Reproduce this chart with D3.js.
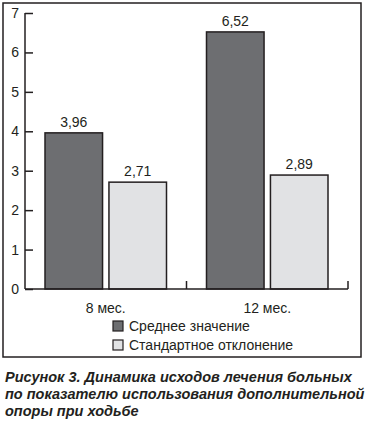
<!DOCTYPE html>
<html>
<head>
<meta charset="utf-8">
<script src="https://cdn.jsdelivr.net/npm/d3@7"></script>
<style>
  body { margin: 0; background: #fff; }
  svg { display: block; font-family: "Liberation Sans", Arial, sans-serif; }
</style>
</head>
<body>
<svg id="chart"></svg>
<script>
const width = 365;
const height = 421;

const categories = ["8 мес.", "12 мес."];
const seriesNames = ["Среднее значение", "Стандартное отклонение"];
const meanValues = [3.96, 6.52];
const sdValues = [2.71, 2.89];
const yTicks = [0, 1, 2, 3, 4, 5, 6, 7];
const captionLines = [
    "Рисунок 3. Динамика исходов лечения больных",
    "по показателю использования дополнительной",
    "опоры при ходьбе"
];

const ink = "#231f20";
const color = d3.scaleOrdinal().domain(seriesNames).range(["#6d6e71", "#e1e2e4"]);

const svg = d3.select("#chart")
    .attr("width", width)
    .attr("height", height);

// frame
svg.append("rect")
    .attr("x", 3).attr("y", 3)
    .attr("width", 358).attr("height", 354)
    .attr("fill", "none")
    .attr("stroke", ink)
    .attr("stroke-width", 1.5);

const margin = { left: 25, right: 348, top: 13, bottom: 289 };

const x = d3.scaleBand()
    .domain(categories)
    .range([margin.left, margin.right]);

const xInner = d3.scaleBand()
    .domain(seriesNames)
    .range([20, x.bandwidth() - 20])
    .paddingInner(0.1);

const y = d3.scaleLinear()
    .domain([0, 7])
    .range([margin.bottom, margin.top]);

const data = categories.map((c, i) => ({
    category: c,
    values: [
        { series: seriesNames[0], value: meanValues[i] },
        { series: seriesNames[1], value: sdValues[i] }
    ]
}));

const group = svg.selectAll("g.group")
    .data(data)
    .enter().append("g")
    .attr("class", "group")
    .attr("transform", d => `translate(${x(d.category)},0)`);

group.selectAll("rect")
    .data(d => d.values)
    .enter().append("rect")
    .attr("x", d => xInner(d.series))
    .attr("y", d => y(d.value))
    .attr("width", xInner.bandwidth())
    .attr("height", d => y(0) - y(d.value))
    .attr("fill", d => color(d.series))
    .attr("stroke", ink)
    .attr("stroke-width", 1.5);

group.selectAll("text.value")
    .data(d => d.values)
    .enter().append("text")
    .attr("class", "value")
    .attr("x", d => xInner(d.series) + xInner.bandwidth() / 2)
    .attr("y", d => y(d.value) - 6)
    .attr("text-anchor", "middle")
    .attr("font-size", 14)
    .attr("fill", ink)
    .text(d => d3.format(".2f")(d.value).replace(".", ","));

// y axis
const yAxis = svg.append("g")
    .attr("transform", `translate(${margin.left},0)`)
    .call(d3.axisRight(y).tickValues(yTicks).tickSize(8).tickFormat(d3.format("d")));
yAxis.select(".domain").attr("d", `M0,${margin.top}V${margin.bottom}`);
yAxis.selectAll("text")
    .attr("x", -6)
    .attr("text-anchor", "end")
    .attr("font-size", 14)
    .attr("font-family", "Liberation Sans, Arial, sans-serif")
    .attr("fill", ink);

// x axis
const xAxis = svg.append("g")
    .attr("transform", `translate(0,${margin.bottom})`)
    .call(d3.axisBottom(x).tickSize(0).tickPadding(14));
xAxis.select(".domain").attr("d", `M${margin.left},0H${margin.right}`);
xAxis.selectAll("text")
    .attr("font-size", 14)
    .attr("font-family", "Liberation Sans, Arial, sans-serif")
    .attr("fill", ink);

// separator ticks between categories
const boundaries = categories.map(c => x(c) + x.bandwidth());
svg.selectAll("line.sep")
    .data(boundaries)
    .enter().append("line")
    .attr("class", "sep")
    .attr("x1", d => d).attr("x2", d => d)
    .attr("y1", margin.bottom - 8).attr("y2", margin.bottom);

svg.selectAll(".domain, .tick line, line.sep")
    .attr("stroke", ink)
    .attr("stroke-width", 1.5);

// legend
const legend = svg.selectAll("g.legend")
    .data(seriesNames)
    .enter().append("g")
    .attr("class", "legend")
    .attr("transform", (d, i) => `translate(113,${321 + i * 19})`);

legend.append("rect")
    .attr("width", 10).attr("height", 10)
    .attr("fill", d => color(d))
    .attr("stroke", ink)
    .attr("stroke-width", 1.2);

legend.append("text")
    .attr("x", 16)
    .attr("y", 10)
    .attr("font-size", 14)
    .attr("fill", ink)
    .text(d => d);

// caption
svg.selectAll("text.caption")
    .data(captionLines)
    .enter().append("text")
    .attr("class", "caption")
    .attr("x", 5)
    .attr("y", (d, i) => 382 + i * 17)
    .attr("font-size", 14.5)
    .attr("font-weight", "bold")
    .attr("font-style", "italic")
    .attr("fill", ink)
    .text(d => d);
</script>
</body>
</html>
